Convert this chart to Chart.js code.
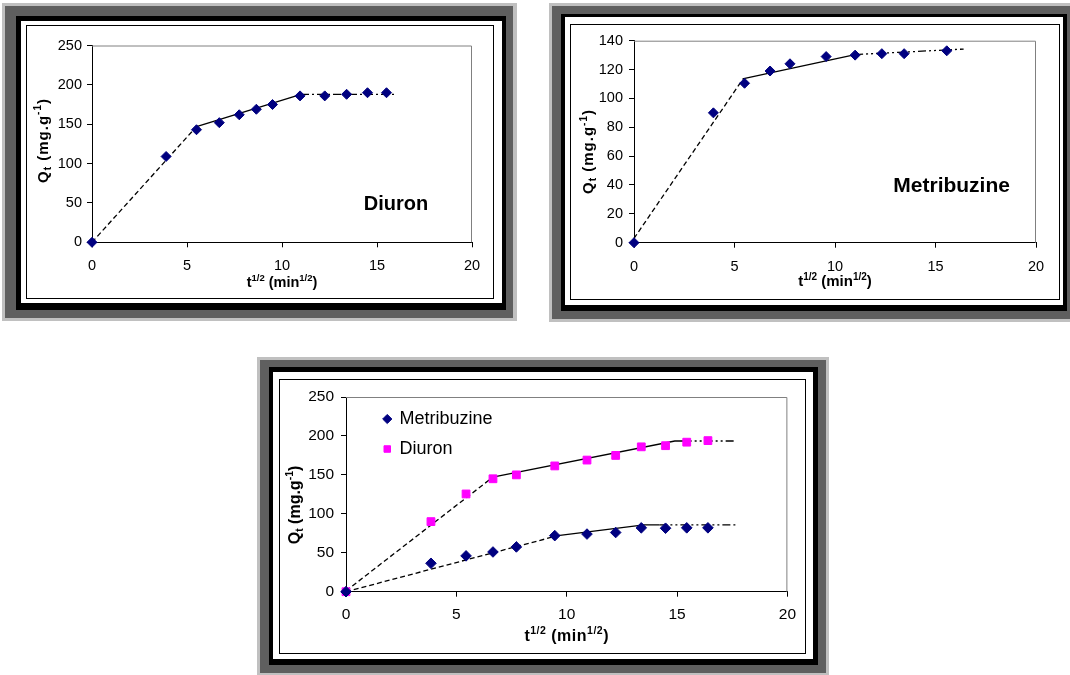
<!DOCTYPE html>
<html>
<head>
<meta charset="utf-8">
<script src="https://cdn.jsdelivr.net/npm/chart.js@4/dist/chart.umd.min.js"></script>
<style>
  body { margin: 0; background: #fff; width: 1070px; height: 675px; overflow: hidden; position: relative; }
  .b { position: absolute; box-sizing: border-box; }
  canvas { position: absolute; }
</style>
</head>
<body>
<!-- frame 1 : Diuron -->
<div class="b" style="left:2px;top:3px;width:515px;height:318px;background:#c0c0c0"></div>
<div class="b" style="left:5px;top:6px;width:508px;height:312px;background:#5f5f5f"></div>
<div class="b" style="left:16px;top:16px;width:490px;height:294px;background:#000"></div>
<div class="b" style="left:21px;top:21px;width:481px;height:282px;background:#fff"></div>
<div class="b" style="left:26px;top:25px;width:468px;height:274px;border:1px solid #000"></div>
<canvas id="c1" width="466" height="272" style="left:27px;top:26px"></canvas>

<!-- frame 2 : Metribuzine -->
<div class="b" style="left:549px;top:3px;width:521px;height:319px;background:#c0c0c0"></div>
<div class="b" style="left:552px;top:6px;width:518px;height:313px;background:#5f5f5f"></div>
<div class="b" style="left:561px;top:14px;width:506px;height:297px;background:#000"></div>
<div class="b" style="left:565px;top:17px;width:498px;height:288px;background:#fff"></div>
<div class="b" style="left:570px;top:24px;width:490px;height:276px;border:1px solid #000"></div>
<canvas id="c2" width="488" height="274" style="left:571px;top:25px"></canvas>

<!-- frame 3 : both -->
<div class="b" style="left:257px;top:357px;width:572px;height:318px;background:#c0c0c0"></div>
<div class="b" style="left:260px;top:360px;width:566px;height:313px;background:#5f5f5f"></div>
<div class="b" style="left:269px;top:367px;width:549px;height:298px;background:#000"></div>
<div class="b" style="left:273px;top:372px;width:540px;height:287px;background:#fff"></div>
<div class="b" style="left:279px;top:379px;width:527px;height:275px;border:1px solid #000"></div>
<canvas id="c3" width="525" height="273" style="left:280px;top:380px"></canvas>

<script>
const FONT = '"Liberation Sans", Arial, sans-serif';

// Diuron alone (t^1/2, Qt)
const diuronT = [0, 3.9, 5.5, 6.7, 7.75, 8.65, 9.5, 10.95, 12.25, 13.4, 14.5, 15.5];
const diuronQ = [0, 109, 143, 152, 162, 169, 175, 186, 186, 188, 190, 190];
const diuronDash = [[0, 0], [5.5, 147]];
const diuronSolid = [[5.5, 147], [11.0, 188]];
const diuronTail = [[11.0, 188], [16.0, 188]];

// Metribuzine alone
const metT = [0, 3.95, 5.5, 6.77, 7.76, 9.56, 11.0, 12.33, 13.44, 15.56];
const metQ = [0, 90, 110.5, 119, 124, 129, 130, 131, 131, 133];
const metDash = [[0, 3], [5.4, 113]];
const metSolid = [[5.4, 113.5], [11.0, 130.4]];
const metTail = [[11.0, 130.4], [16.4, 134.2]];

// mixture
const mixT = [0, 3.85, 5.44, 6.66, 7.72, 9.46, 10.92, 12.22, 13.38, 14.48, 15.44, 16.4];
const mixMetQ = [0, 36.5, 46, 51, 57.5, 72, 74, 76, 82, 81.5, 82, 82];
const mixDiuronQ = [0, 90, 125.5, 145, 150, 161.5, 169, 175, 186, 187.5, 192, 194];
const mixDiuronDash = [[0, 1], [6.65, 147]];
const mixDiuronSolid = [[6.65, 147], [14.9, 193.5], [15.3, 193.5]];
const mixDiuronTail = [[15.3, 193.5], [17.7, 193.5]];
const mixMetDash = [[0, 0], [9.6, 72]];
const mixMetSolid = [[9.6, 72], [13.5, 85.7], [14.2, 85.7]];
const mixMetTail = [[14.2, 85.7], [17.7, 85.7]];

const NAVY = '#000080';
const PINK = '#ff00ff';
const DASH = [5, 3];
const DASH_DOT = [8, 3, 2, 3];
const DASH_DOT_DOT = [8, 3, 2, 3, 2, 3];

const pts = (xs, ys) => xs.map((x, i) => ({ x, y: ys[i] }));
const seg = (pairs) => pairs.map(([x, y]) => ({ x, y }));

function markers(label, data, style, color, r) {
  return {
    label, data, pointStyle: style,
    backgroundColor: color, borderColor: color, borderWidth: 1,
    pointRadius: r, pointHoverRadius: r, showLine: false, clip: false,
  };
}

function fitLine(data, dash) {
  return {
    label: '', data, showLine: true, borderColor: '#000', borderWidth: 1.3,
    borderDash: dash, pointRadius: 0, pointHoverRadius: 0, fill: false, clip: false,
  };
}

function makeScales(yMax, yStep, size, padX, padY, xH, yW) {
  const tickFont = { family: FONT, size };
  const axis = (extra) => Object.assign({
    type: 'linear',
    min: 0,
    grid: { drawOnChartArea: false, drawTicks: true, tickLength: 5, color: '#000' },
    border: { color: '#000', width: 1 },
  }, extra);
  return {
    x: axis({
      position: 'bottom', max: 20,
      ticks: { stepSize: 5, font: tickFont, color: '#000', padding: padX, maxRotation: 0 },
      afterFit: (s) => { s.height = xH; },
    }),
    y: axis({
      position: 'left', max: yMax,
      ticks: { stepSize: yStep, font: tickFont, color: '#000', padding: padY },
      afterFit: (s) => { s.width = yW; },
    }),
  };
}

// text made of pieces with sub/superscripts
function drawRich(ctx, parts, cx, cy, rotate, spacing) {
  ctx.save();
  ctx.translate(cx, cy);
  if (rotate) ctx.rotate(-Math.PI / 2);
  ctx.fillStyle = '#000';
  ctx.textAlign = 'left';
  ctx.textBaseline = 'alphabetic';
  ctx.letterSpacing = spacing || '0px';
  let total = 0;
  parts.forEach((p) => {
    ctx.font = `bold ${p.s}px ${FONT}`;
    total += ctx.measureText(p.t).width;
  });
  let x = -total / 2;
  parts.forEach((p) => {
    ctx.font = `bold ${p.s}px ${FONT}`;
    ctx.fillText(p.t, x, p.dy || 0);
    x += ctx.measureText(p.t).width;
  });
  ctx.restore();
}

const excelLook = {
  id: 'excelLook',
  afterLayout(chart) {
    const lg = chart.legend;
    if (!lg || !lg.options.display) return;
    const a = chart.chartArea;
    lg.left = a.left + 26;
    lg.top = a.top + 1;
    lg.right = lg.left + lg.width;
    lg.bottom = lg.top + lg.height;
  },
  beforeDatasetsDraw(chart) {
    const { ctx, chartArea: a } = chart;
    ctx.save();
    ctx.strokeStyle = '#808080';
    ctx.lineWidth = 1;
    ctx.beginPath();
    ctx.moveTo(a.left, a.top + 0.5);
    ctx.lineTo(a.right - 0.5, a.top + 0.5);
    ctx.lineTo(a.right - 0.5, a.bottom);
    ctx.stroke();
    ctx.restore();
  },
  afterDraw(chart, args, opts) {
    const { ctx, chartArea: a, scales } = chart;
    drawRich(ctx, opts.xTitle, (a.left + a.right) / 2, opts.xBase, false, opts.xSpacing);
    drawRich(ctx, opts.yTitle, opts.yBase, opts.yCenter, true, opts.ySpacing);
    if (opts.note) {
      ctx.save();
      ctx.font = `bold ${opts.note.size}px ${FONT}`;
      ctx.fillStyle = '#000';
      ctx.textBaseline = 'alphabetic';
      ctx.fillText(opts.note.text, scales.x.getPixelForValue(opts.note.x), scales.y.getPixelForValue(opts.note.y));
      ctx.restore();
    }
  },
};

const xTitle = (s, ss) => [
  { t: 't', s }, { t: '1/2', s: ss, dy: -s * 0.42 }, { t: ' (min', s }, { t: '1/2', s: ss, dy: -s * 0.42 }, { t: ')', s },
];
const yTitle = (s, ss) => [
  { t: 'Q', s }, { t: 't', s: ss, dy: 3 }, { t: ' (mg.g', s }, { t: '-1', s: ss, dy: -s * 0.42 }, { t: ')', s },
];

function baseOptions(scales, pad, text, legend) {
  return {
    responsive: false,
    animation: false,
    events: [],
    devicePixelRatio: 1,
    layout: { padding: pad },
    scales,
    plugins: {
      legend: legend || { display: false },
      tooltip: { enabled: false },
      excelLook: text,
    },
  };
}

Chart.defaults.font.family = FONT;

new Chart(document.getElementById('c1'), {
  type: 'scatter',
  data: {
    datasets: [
      markers('Diuron', pts(diuronT, diuronQ), 'rectRot', NAVY, 5),
      fitLine(seg(diuronDash), DASH),
      fitLine(seg(diuronSolid), []),
      fitLine(seg(diuronTail), DASH_DOT),
    ],
  },
  options: baseOptions(
    makeScales(250, 50, 14.5, 10, 5, 55.7, 65),
    { left: 0, top: 19.5, right: 21, bottom: 0 },
    {
      xTitle: xTitle(14.5, 9.5), xBase: 261,
      yTitle: yTitle(15, 10), yBase: 20.5, yCenter: 114.5, ySpacing: '1px',
      note: { text: 'Diuron', size: 20, x: 14.3, y: 41 },
    }
  ),
  plugins: [excelLook],
});

new Chart(document.getElementById('c2'), {
  type: 'scatter',
  data: {
    datasets: [
      markers('Metribuzine', pts(metT, metQ), 'rectRot', NAVY, 5),
      fitLine(seg(metDash), DASH),
      fitLine(seg(metSolid), []),
      fitLine(seg(metTail), DASH_DOT_DOT),
    ],
  },
  options: baseOptions(
    makeScales(140, 20, 14.5, 11, 6, 56.3, 63),
    { left: 0, top: 15.7, right: 23, bottom: 0 },
    {
      xTitle: xTitle(15, 10), xBase: 261,
      yTitle: yTitle(15, 10), yBase: 22, yCenter: 126.5, ySpacing: '1px',
      note: { text: 'Metribuzine', size: 21, x: 12.9, y: 34.8 },
    }
  ),
  plugins: [excelLook],
});

new Chart(document.getElementById('c3'), {
  type: 'scatter',
  data: {
    datasets: [
      markers('Metribuzine', pts(mixT, mixMetQ), 'rectRot', NAVY, 5.3),
      markers('Diuron', pts(mixT, mixDiuronQ), 'rect', PINK, 5.5),
      fitLine(seg(mixDiuronDash), DASH),
      fitLine(seg(mixDiuronSolid), []),
      fitLine(seg(mixDiuronTail), DASH_DOT_DOT),
      fitLine(seg(mixMetDash), DASH),
      fitLine(seg(mixMetSolid), []),
      fitLine(seg(mixMetTail), DASH_DOT_DOT),
    ],
  },
  options: baseOptions(
    makeScales(250, 50, 15.5, 9, 7, 61.3, 66),
    { left: 0, top: 17, right: 16, bottom: 0 },
    {
      xTitle: xTitle(16, 10.5), xBase: 261, xSpacing: '0.5px',
      yTitle: yTitle(16, 10.5), yBase: 19.5, yCenter: 125,
    },
    {
      display: true,
      position: 'chartArea',
      align: 'start',
      labels: {
        usePointStyle: true, boxWidth: 6.5, boxHeight: 6.5, padding: 12, color: '#000',
        font: { family: FONT, size: 18 },
        filter: (item) => item.datasetIndex < 2,
      },
    }
  ),
  plugins: [excelLook],
});
</script>
</body>
</html>
